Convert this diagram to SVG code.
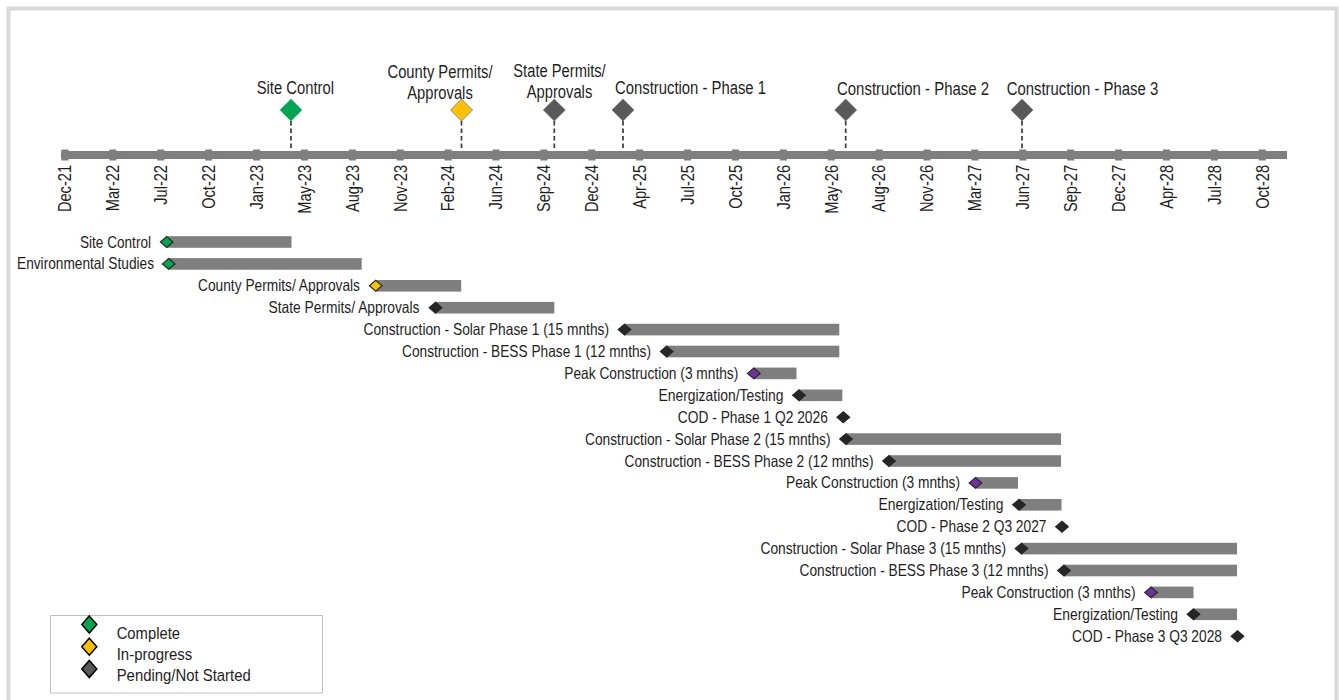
<svg xmlns="http://www.w3.org/2000/svg" xmlns:xlink="http://www.w3.org/1999/xlink" width="1339" height="700" viewBox="0 0 1339 700">
<style>
text{font-family:"Liberation Sans Narrow","Liberation Sans",Arial,sans-serif;fill:#1e1e1e;}
.top{font-size:18px;text-anchor:middle;}
.ax{font-size:18px;text-anchor:end;}
.gl{font-size:16.5px;text-anchor:end;}
.lg{font-size:17px;}
.bar{fill:#7f7f7f;}
.tick{fill:#7f7f7f;}
.dash{stroke:#404040;stroke-width:1.75;stroke-dasharray:4.5 3;fill:none;}
.g-green{fill:#00a651;stroke:#262626;stroke-width:1.2;}
.g-yellow{fill:#ffc000;stroke:#262626;stroke-width:1.2;}
.g-dark{fill:#262626;stroke:#262626;stroke-width:1.2;}
.g-purple{fill:#7030a0;stroke:#262626;stroke-width:1.2;}
.t-green{fill:#00a651;stroke:#3fbf7f;stroke-width:0.8;}
.t-yellow{fill:#ffc000;stroke:#8c8c8c;stroke-width:1;}
.t-dark{fill:#595959;stroke:#7f7f7f;stroke-width:0.8;}
.l-green{fill:#00a651;stroke:#000;stroke-width:1.5;}
.l-yellow{fill:#ffc000;stroke:#000;stroke-width:1.5;}
.l-dark{fill:#595959;stroke:#000;stroke-width:1.5;}
</style>
<defs>
<path id="dt" d="M0,-11 L11,0 L0,11 L-11,0Z"/>
<path id="dg" d="M0,-5.4 L6.3,0 L0,5.4 L-6.3,0Z"/>
<path id="dl" d="M0,-8.5 L7.5,0 L0,8.5 L-7.5,0Z"/>
</defs>
<rect x="0" y="0" width="1339" height="700" fill="#fff"/>
<rect id="frame" x="8.5" y="8.5" width="1328" height="720" fill="#fff" stroke="#d9d9d9" stroke-width="4"/>

<g id="connectors">
<line class="dash" x1="291" y1="121" x2="291" y2="155"/>
<line class="dash" x1="461.5" y1="121" x2="461.5" y2="155"/>
<line class="dash" x1="554.3" y1="121" x2="554.3" y2="155"/>
<line class="dash" x1="623" y1="121" x2="623" y2="155"/>
<line class="dash" x1="845.7" y1="121" x2="845.7" y2="155"/>
<line class="dash" x1="1022" y1="121" x2="1022" y2="155"/>
</g>

<g id="axis">
<rect x="61" y="151" width="1226" height="8" fill="#7f7f7f"/>
<rect class="tick" x="61.5" y="149.5" width="7" height="11"/>
<rect class="tick" x="109.39" y="149.5" width="7" height="11"/>
<rect class="tick" x="157.28" y="149.5" width="7" height="11"/>
<rect class="tick" x="205.17" y="149.5" width="7" height="11"/>
<rect class="tick" x="253.06" y="149.5" width="7" height="11"/>
<rect class="tick" x="300.95" y="149.5" width="7" height="11"/>
<rect class="tick" x="348.84" y="149.5" width="7" height="11"/>
<rect class="tick" x="396.73" y="149.5" width="7" height="11"/>
<rect class="tick" x="444.62" y="149.5" width="7" height="11"/>
<rect class="tick" x="492.51" y="149.5" width="7" height="11"/>
<rect class="tick" x="540.4" y="149.5" width="7" height="11"/>
<rect class="tick" x="588.29" y="149.5" width="7" height="11"/>
<rect class="tick" x="636.18" y="149.5" width="7" height="11"/>
<rect class="tick" x="684.07" y="149.5" width="7" height="11"/>
<rect class="tick" x="731.96" y="149.5" width="7" height="11"/>
<rect class="tick" x="779.85" y="149.5" width="7" height="11"/>
<rect class="tick" x="827.74" y="149.5" width="7" height="11"/>
<rect class="tick" x="875.63" y="149.5" width="7" height="11"/>
<rect class="tick" x="923.52" y="149.5" width="7" height="11"/>
<rect class="tick" x="971.41" y="149.5" width="7" height="11"/>
<rect class="tick" x="1019.3" y="149.5" width="7" height="11"/>
<rect class="tick" x="1067.19" y="149.5" width="7" height="11"/>
<rect class="tick" x="1115.08" y="149.5" width="7" height="11"/>
<rect class="tick" x="1162.97" y="149.5" width="7" height="11"/>
<rect class="tick" x="1210.86" y="149.5" width="7" height="11"/>
<rect class="tick" x="1258.75" y="149.5" width="7" height="11"/>
<text class="ax" transform="translate(71.3,165) rotate(-90)" textLength="47.1" lengthAdjust="spacingAndGlyphs">Dec-21</text>
<text class="ax" transform="translate(119.19,165) rotate(-90)" textLength="46.2" lengthAdjust="spacingAndGlyphs">Mar-22</text>
<text class="ax" transform="translate(167.08,165) rotate(-90)" textLength="39.8" lengthAdjust="spacingAndGlyphs">Jul-22</text>
<text class="ax" transform="translate(214.97,165) rotate(-90)" textLength="43.8" lengthAdjust="spacingAndGlyphs">Oct-22</text>
<text class="ax" transform="translate(262.86,165) rotate(-90)" textLength="44.6" lengthAdjust="spacingAndGlyphs">Jan-23</text>
<text class="ax" transform="translate(310.75,165) rotate(-90)" textLength="48.7" lengthAdjust="spacingAndGlyphs">May-23</text>
<text class="ax" transform="translate(358.64,165) rotate(-90)" textLength="47.1" lengthAdjust="spacingAndGlyphs">Aug-23</text>
<text class="ax" transform="translate(406.53,165) rotate(-90)" textLength="47.1" lengthAdjust="spacingAndGlyphs">Nov-23</text>
<text class="ax" transform="translate(454.42,165) rotate(-90)" textLength="46.3" lengthAdjust="spacingAndGlyphs">Feb-24</text>
<text class="ax" transform="translate(502.31,165) rotate(-90)" textLength="44.6" lengthAdjust="spacingAndGlyphs">Jun-24</text>
<text class="ax" transform="translate(550.2,165) rotate(-90)" textLength="47.1" lengthAdjust="spacingAndGlyphs">Sep-24</text>
<text class="ax" transform="translate(598.09,165) rotate(-90)" textLength="47.1" lengthAdjust="spacingAndGlyphs">Dec-24</text>
<text class="ax" transform="translate(645.98,165) rotate(-90)" textLength="43.8" lengthAdjust="spacingAndGlyphs">Apr-25</text>
<text class="ax" transform="translate(693.87,165) rotate(-90)" textLength="39.8" lengthAdjust="spacingAndGlyphs">Jul-25</text>
<text class="ax" transform="translate(741.76,165) rotate(-90)" textLength="43.8" lengthAdjust="spacingAndGlyphs">Oct-25</text>
<text class="ax" transform="translate(789.65,165) rotate(-90)" textLength="44.6" lengthAdjust="spacingAndGlyphs">Jan-26</text>
<text class="ax" transform="translate(837.54,165) rotate(-90)" textLength="48.7" lengthAdjust="spacingAndGlyphs">May-26</text>
<text class="ax" transform="translate(885.43,165) rotate(-90)" textLength="47.1" lengthAdjust="spacingAndGlyphs">Aug-26</text>
<text class="ax" transform="translate(933.32,165) rotate(-90)" textLength="47.1" lengthAdjust="spacingAndGlyphs">Nov-26</text>
<text class="ax" transform="translate(981.21,165) rotate(-90)" textLength="46.2" lengthAdjust="spacingAndGlyphs">Mar-27</text>
<text class="ax" transform="translate(1029.1,165) rotate(-90)" textLength="44.6" lengthAdjust="spacingAndGlyphs">Jun-27</text>
<text class="ax" transform="translate(1076.99,165) rotate(-90)" textLength="47.1" lengthAdjust="spacingAndGlyphs">Sep-27</text>
<text class="ax" transform="translate(1124.88,165) rotate(-90)" textLength="47.1" lengthAdjust="spacingAndGlyphs">Dec-27</text>
<text class="ax" transform="translate(1172.77,165) rotate(-90)" textLength="43.8" lengthAdjust="spacingAndGlyphs">Apr-28</text>
<text class="ax" transform="translate(1220.66,165) rotate(-90)" textLength="39.8" lengthAdjust="spacingAndGlyphs">Jul-28</text>
<text class="ax" transform="translate(1268.55,165) rotate(-90)" textLength="43.8" lengthAdjust="spacingAndGlyphs">Oct-28</text>
</g>

<g id="ms-site-control">
<use href="#dt" xlink:href="#dt" class="t-green" x="291" y="110"/>
<text class="top" x="295.3" y="94.3" textLength="77.3" lengthAdjust="spacingAndGlyphs">Site Control</text>
</g>
<g id="ms-county">
<use href="#dt" xlink:href="#dt" class="t-yellow" x="461.5" y="110"/>
<text class="top" x="440" y="78.3" textLength="105" lengthAdjust="spacingAndGlyphs">County Permits/</text>
<text class="top" x="440" y="98.8" textLength="65.5" lengthAdjust="spacingAndGlyphs">Approvals</text>
</g>
<g id="ms-state">
<use href="#dt" xlink:href="#dt" class="t-dark" x="554.3" y="110"/>
<text class="top" x="559.5" y="77" textLength="92.4" lengthAdjust="spacingAndGlyphs">State Permits/</text>
<text class="top" x="559.5" y="97.5" textLength="65.5" lengthAdjust="spacingAndGlyphs">Approvals</text>
</g>
<g id="ms-phase1">
<use href="#dt" xlink:href="#dt" class="t-dark" x="623" y="110"/>
<text class="top" x="690.5" y="94" textLength="151" lengthAdjust="spacingAndGlyphs">Construction - Phase 1</text>
</g>
<g id="ms-phase2">
<use href="#dt" xlink:href="#dt" class="t-dark" x="845.7" y="110"/>
<text class="top" x="913" y="95" textLength="152" lengthAdjust="spacingAndGlyphs">Construction - Phase 2</text>
</g>
<g id="ms-phase3">
<use href="#dt" xlink:href="#dt" class="t-dark" x="1022" y="110"/>
<text class="top" x="1082.5" y="95" textLength="151.6" lengthAdjust="spacingAndGlyphs">Construction - Phase 3</text>
</g>

<g id="row-01">
<rect class="bar" x="166.7" y="236.2" width="124.8" height="11.6"/>
<use href="#dg" xlink:href="#dg" class="g-green" x="166.7" y="242"/>
<text class="gl" x="151" y="247.5" textLength="71" lengthAdjust="spacingAndGlyphs">Site Control</text>
</g>
<g id="row-02">
<rect class="bar" x="168.7" y="258.1" width="193" height="11.6"/>
<use href="#dg" xlink:href="#dg" class="g-green" x="168.7" y="263.9"/>
<text class="gl" x="154" y="269.4" textLength="137" lengthAdjust="spacingAndGlyphs">Environmental Studies</text>
</g>
<g id="row-03">
<rect class="bar" x="375.7" y="280" width="85.5" height="11.6"/>
<use href="#dg" xlink:href="#dg" class="g-yellow" x="375.7" y="285.8"/>
<text class="gl" x="360" y="291.3" textLength="162" lengthAdjust="spacingAndGlyphs">County Permits/ Approvals</text>
</g>
<g id="row-04">
<rect class="bar" x="435.5" y="301.9" width="118.8" height="11.6"/>
<use href="#dg" xlink:href="#dg" class="g-dark" x="435.5" y="307.7"/>
<text class="gl" x="419.5" y="313.2" textLength="151" lengthAdjust="spacingAndGlyphs">State Permits/ Approvals</text>
</g>
<g id="row-05">
<rect class="bar" x="624.5" y="323.8" width="214.8" height="11.6"/>
<use href="#dg" xlink:href="#dg" class="g-dark" x="624.5" y="329.6"/>
<text class="gl" x="609" y="335.1" textLength="245.5" lengthAdjust="spacingAndGlyphs">Construction - Solar Phase 1 (15 mnths)</text>
</g>
<g id="row-06">
<rect class="bar" x="666.7" y="345.7" width="172.6" height="11.6"/>
<use href="#dg" xlink:href="#dg" class="g-dark" x="666.7" y="351.5"/>
<text class="gl" x="651" y="357" textLength="249" lengthAdjust="spacingAndGlyphs">Construction - BESS Phase 1 (12 mnths)</text>
</g>
<g id="row-07">
<rect class="bar" x="753.8" y="367.6" width="42.7" height="11.6"/>
<use href="#dg" xlink:href="#dg" class="g-purple" x="753.8" y="373.4"/>
<text class="gl" x="738.3" y="378.9" textLength="174" lengthAdjust="spacingAndGlyphs">Peak Construction (3 mnths)</text>
</g>
<g id="row-08">
<rect class="bar" x="799" y="389.5" width="43.3" height="11.6"/>
<use href="#dg" xlink:href="#dg" class="g-dark" x="799" y="395.3"/>
<text class="gl" x="783.5" y="400.8" textLength="125" lengthAdjust="spacingAndGlyphs">Energization/Testing</text>
</g>
<g id="row-09">
<use href="#dg" xlink:href="#dg" class="g-dark" x="843.3" y="417.2"/>
<text class="gl" x="827.8" y="422.7" textLength="150" lengthAdjust="spacingAndGlyphs">COD - Phase 1 Q2 2026</text>
</g>
<g id="row-10">
<rect class="bar" x="846" y="433.3" width="215" height="11.6"/>
<use href="#dg" xlink:href="#dg" class="g-dark" x="846" y="439.1"/>
<text class="gl" x="830.5" y="444.6" textLength="245.5" lengthAdjust="spacingAndGlyphs">Construction - Solar Phase 2 (15 mnths)</text>
</g>
<g id="row-11">
<rect class="bar" x="889" y="455.2" width="172" height="11.6"/>
<use href="#dg" xlink:href="#dg" class="g-dark" x="889" y="461"/>
<text class="gl" x="873.5" y="466.5" textLength="249" lengthAdjust="spacingAndGlyphs">Construction - BESS Phase 2 (12 mnths)</text>
</g>
<g id="row-12">
<rect class="bar" x="975.5" y="477.1" width="42.5" height="11.6"/>
<use href="#dg" xlink:href="#dg" class="g-purple" x="975.5" y="482.9"/>
<text class="gl" x="960" y="488.4" textLength="174" lengthAdjust="spacingAndGlyphs">Peak Construction (3 mnths)</text>
</g>
<g id="row-13">
<rect class="bar" x="1019" y="499" width="42.5" height="11.6"/>
<use href="#dg" xlink:href="#dg" class="g-dark" x="1019" y="504.8"/>
<text class="gl" x="1003.5" y="510.3" textLength="125" lengthAdjust="spacingAndGlyphs">Energization/Testing</text>
</g>
<g id="row-14">
<use href="#dg" xlink:href="#dg" class="g-dark" x="1062" y="526.7"/>
<text class="gl" x="1046.5" y="532.2" textLength="150" lengthAdjust="spacingAndGlyphs">COD - Phase 2 Q3 2027</text>
</g>
<g id="row-15">
<rect class="bar" x="1021.5" y="542.8" width="215.5" height="11.6"/>
<use href="#dg" xlink:href="#dg" class="g-dark" x="1021.5" y="548.6"/>
<text class="gl" x="1006" y="554.1" textLength="245.5" lengthAdjust="spacingAndGlyphs">Construction - Solar Phase 3 (15 mnths)</text>
</g>
<g id="row-16">
<rect class="bar" x="1064" y="564.7" width="173" height="11.6"/>
<use href="#dg" xlink:href="#dg" class="g-dark" x="1064" y="570.5"/>
<text class="gl" x="1048.5" y="576" textLength="249" lengthAdjust="spacingAndGlyphs">Construction - BESS Phase 3 (12 mnths)</text>
</g>
<g id="row-17">
<rect class="bar" x="1151" y="586.6" width="42.5" height="11.6"/>
<use href="#dg" xlink:href="#dg" class="g-purple" x="1151" y="592.4"/>
<text class="gl" x="1135.5" y="597.9" textLength="174" lengthAdjust="spacingAndGlyphs">Peak Construction (3 mnths)</text>
</g>
<g id="row-18">
<rect class="bar" x="1193.5" y="608.5" width="43.5" height="11.6"/>
<use href="#dg" xlink:href="#dg" class="g-dark" x="1193.5" y="614.3"/>
<text class="gl" x="1178" y="619.8" textLength="125" lengthAdjust="spacingAndGlyphs">Energization/Testing</text>
</g>
<g id="row-19">
<use href="#dg" xlink:href="#dg" class="g-dark" x="1237.5" y="636.2"/>
<text class="gl" x="1222" y="641.7" textLength="150" lengthAdjust="spacingAndGlyphs">COD - Phase 3 Q3 2028</text>
</g>

<g id="legend">
<rect x="50.5" y="615.5" width="272" height="77.5" fill="#fff" stroke="#bfbfbf" stroke-width="1"/>
<use href="#dl" xlink:href="#dl" class="l-green" x="89.3" y="624.5"/>
<use href="#dl" xlink:href="#dl" class="l-yellow" x="89.3" y="646.7"/>
<use href="#dl" xlink:href="#dl" class="l-dark" x="89.3" y="669"/>
<text class="lg" x="116.7" y="638.5" textLength="63.3" lengthAdjust="spacingAndGlyphs">Complete</text>
<text class="lg" x="116.7" y="659.8" textLength="75.6" lengthAdjust="spacingAndGlyphs">In-progress</text>
<text class="lg" x="116.7" y="680.5" textLength="134" lengthAdjust="spacingAndGlyphs">Pending/Not Started</text>
</g>
</svg>
